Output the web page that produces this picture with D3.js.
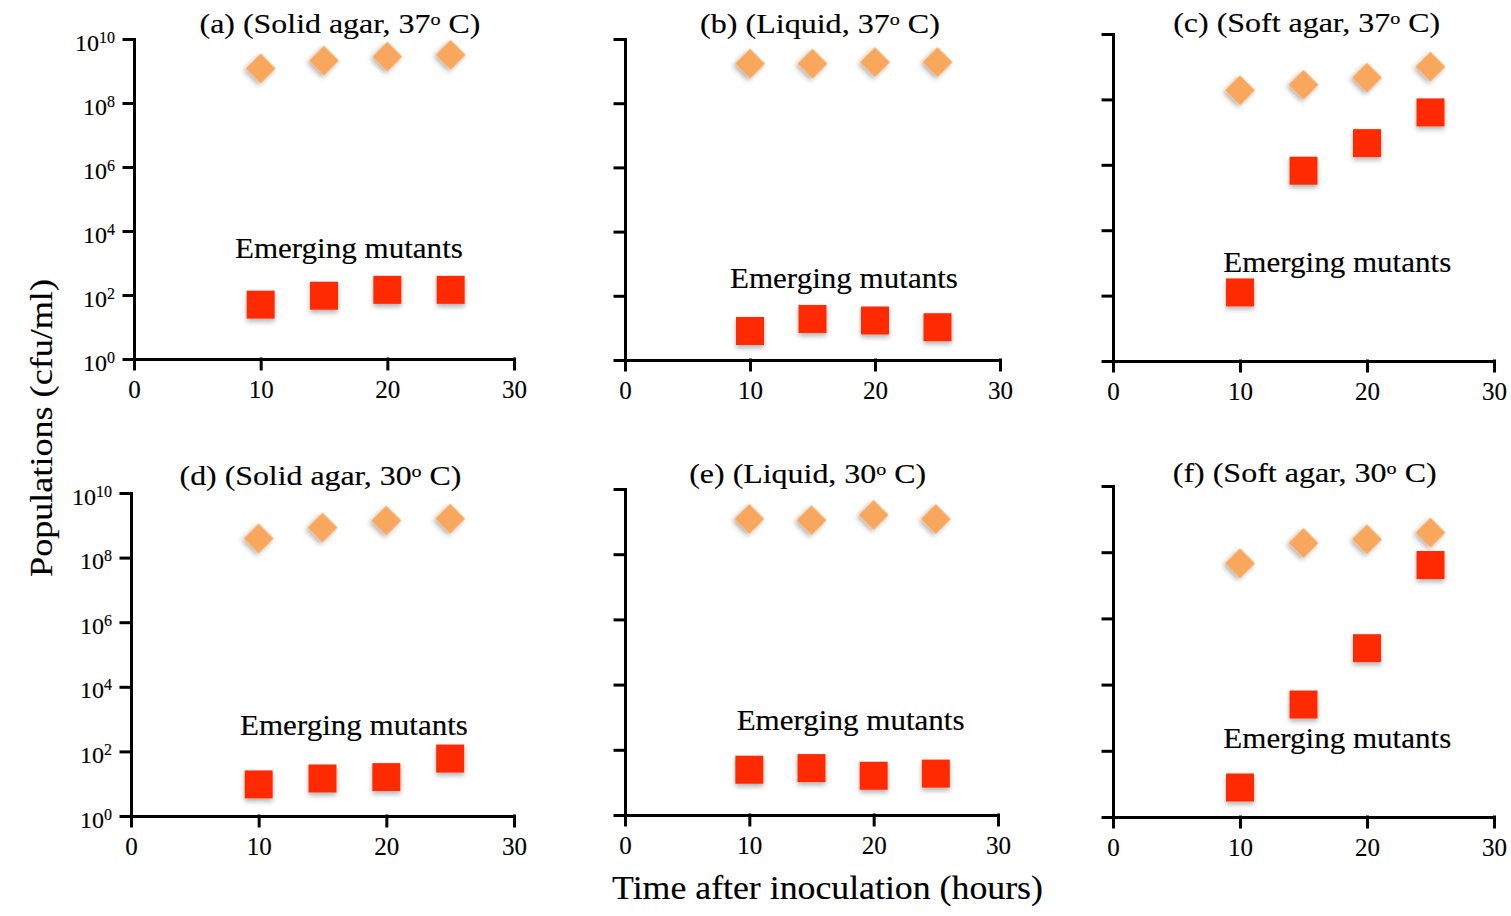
<!DOCTYPE html>
<html>
<head>
<meta charset="utf-8">
<script src="https://cdn.jsdelivr.net/npm/d3@7"></script>
<style>
  body { margin: 0; background: #fff; }
  svg text { stroke: #000; stroke-width: 0.15px; }
</style>
</head>
<body>
<svg id="chart" width="1511" height="916"></svg>
<script>
var FONT = 'Liberation Serif';

// sampling times (hours) and axis ticks
var times = [10, 15, 20, 25];
var xTicks = [0, 10, 20, 30];
var yTicks = [1, 1e2, 1e4, 1e6, 1e8, 1e10];
var yTickExps = ['0', '2', '4', '6', '8', '10'];

// panel titles: letter, medium, temperature
var panelLetters = ['a', 'b', 'c', 'd', 'e', 'f'];
var panelMedia = ['Solid agar', 'Liquid', 'Soft agar', 'Solid agar', 'Liquid', 'Soft agar'];
var panelTemps = ['37', '37', '37', '30', '30', '30'];

// total population (cfu/ml), orange diamonds
var totalA = [1.2e9, 2.1e9, 2.8e9, 3.2e9];
var totalB = [1.7e9, 1.7e9, 1.9e9, 1.9e9];
var totalC = [1.9e8, 2.8e8, 4.6e8, 1.0e9];
var totalD = [3.9e8, 8.5e8, 1.4e9, 1.6e9];
var totalE = [1.2e9, 1.1e9, 1.6e9, 1.2e9];
var totalF = [4.6e7, 1.9e8, 2.45e8, 3.9e8];

// emerging mutants (cfu/ml), red squares
var mutantA = [50, 95, 145, 145];
var mutantB = [8, 19, 17, 10.5];
var mutantC = [125, 6.6e5, 4.6e6, 4.0e7];
var mutantD = [9.5, 14.5, 16, 60];
var mutantE = [24.5, 27.5, 16, 18.6];
var mutantF = [7.8, 2500, 1.26e5, 4.1e7];

var totals = [totalA, totalB, totalC, totalD, totalE, totalF];
var mutants = [mutantA, mutantB, mutantC, mutantD, mutantE, mutantF];

// layout of each panel (pixels) and where the "Emerging mutants" note sits (hours, cfu/ml)
var layout = [
  { x0: 134, x1: 514, yTop: 39, yBot: 359, yLabels: true,  tx: 340,   ty: 33,  tw: 281, note: [7.97, 1.45e3] },
  { x0: 625, x1: 1000, yTop: 39, yBot: 360, yLabels: false, tx: 820,   ty: 33,  tw: 240, note: [8.4, 1.74e2] },
  { x0: 1113, x1: 1494, yTop: 34, yBot: 361, yLabels: false, tx: 1306.7, ty: 32, tw: 267, note: [8.69, 5.4e2] },
  { x0: 131, x1: 514, yTop: 493, yBot: 816, yLabels: true,  tx: 320.5, ty: 485, tw: 282, note: [8.54, 3.2e2] },
  { x0: 625, x1: 998, yTop: 489, yBot: 815, yLabels: false, tx: 807.7, ty: 483, tw: 237, note: [8.98, 4.1e2] },
  { x0: 1113, x1: 1494, yTop: 486, yBot: 817, yLabels: false, tx: 1304.7, ty: 482, tw: 264, note: [8.69, 1.23e2] }
];

var svg = d3.select('#chart');

// soft drop shadow under the markers
var shadow = svg.append('defs').append('filter')
  .attr('id', 'shadow')
  .attr('x', '-40%').attr('y', '-40%')
  .attr('width', '180%').attr('height', '190%');
shadow.append('feDropShadow')
  .attr('dx', 0).attr('dy', 3)
  .attr('stdDeviation', 2.5)
  .attr('flood-color', '#000')
  .attr('flood-opacity', 0.3);

// stretch a text horizontally so it covers the given width
function fitWidth(sel, ax, w) {
  var bw = sel.node().getBBox().width;
  var k = w / bw;
  sel.attr('transform', 'translate(' + ax + ',0) scale(' + k + ',1) translate(' + (-ax) + ',0)');
}

layout.forEach(function (p, i) {
  var x = d3.scaleLinear().domain([0, 30]).range([p.x0, p.x1]);
  var y = d3.scaleLog().domain([1, 1e10]).range([p.yBot, p.yTop]);
  var g = svg.append('g').attr('class', 'panel');

  var xAxis = g.append('g')
    .attr('transform', 'translate(0,' + p.yBot + ')')
    .call(d3.axisBottom(x).tickValues(xTicks).tickSize(10).tickSizeOuter(0).tickPadding(11));
  xAxis.selectAll('text')
    .style('font-family', FONT)
    .style('font-size', '25px')
    .attr('fill', '#000');

  var yAxis = g.append('g')
    .attr('transform', 'translate(' + p.x0 + ',0)')
    .call(d3.axisLeft(y).tickValues(yTicks).tickSize(10).tickSizeOuter(0));
  yAxis.selectAll('.tick text').remove();

  g.selectAll('.domain, .tick line')
    .attr('stroke', '#000')
    .attr('stroke-width', 3)
    .attr('stroke-linecap', 'square');

  if (p.yLabels) {
    yAxis.selectAll('.tick').each(function (d, j) {
      var t = d3.select(this).append('text')
        .attr('x', -19)
        .attr('y', 11)
        .attr('text-anchor', 'end')
        .attr('fill', '#000')
        .style('font-family', FONT)
        .style('font-size', '24px');
      t.append('tspan').text('10');
      t.append('tspan')
        .style('font-size', '16px')
        .attr('dy', -8)
        .text(yTickExps[j]);
    });
  }

  // title
  var title = g.append('text')
    .attr('x', p.tx)
    .attr('y', p.ty)
    .attr('text-anchor', 'middle')
    .style('font-family', FONT)
    .style('font-size', '27px');
  title.append('tspan').text('(' + panelLetters[i] + ') (' + panelMedia[i] + ', ' + panelTemps[i]);
  title.append('tspan').style('font-size', '17px').attr('dy', -8).text('o');
  title.append('tspan').attr('dy', 8).text(' C)');
  fitWidth(title, p.tx, p.tw);

  // note
  var note = g.append('text')
    .attr('x', x(p.note[0]))
    .attr('y', y(p.note[1]))
    .style('font-family', FONT)
    .style('font-size', '29px')
    .text('Emerging mutants');
  fitWidth(note, x(p.note[0]), 228);

  // total population: diamonds
  var diamond = d3.symbol().type(d3.symbolSquare).size(450);
  g.selectAll('path.total')
    .data(totals[i])
    .enter()
    .append('path')
    .attr('class', 'total')
    .attr('d', diamond)
    .attr('fill', '#F9A75B')
    .attr('filter', 'url(#shadow)')
    .attr('transform', function (d, k) {
      return 'translate(' + x(times[k]) + ',' + y(d) + ') rotate(45)';
    });

  // emerging mutants: squares
  var side = 28;
  g.selectAll('rect.mutant')
    .data(mutants[i])
    .enter()
    .append('rect')
    .attr('class', 'mutant')
    .attr('x', function (d, k) { return x(times[k]) - side / 2; })
    .attr('y', function (d) { return y(d) - side / 2; })
    .attr('width', side)
    .attr('height', side)
    .attr('fill', '#FF2A00')
    .attr('filter', 'url(#shadow)');
});

// shared axis titles
var yTitle = svg.append('text')
  .attr('x', 0)
  .attr('y', 0)
  .attr('text-anchor', 'middle')
  .style('font-family', FONT)
  .style('font-size', '32px')
  .text('Populations (cfu/ml)');
var yw = yTitle.node().getBBox().width;
yTitle.attr('transform', 'translate(52,428) rotate(-90) scale(' + (298 / yw) + ',1)');

var xTitle = svg.append('text')
  .attr('x', 827.5)
  .attr('y', 899)
  .attr('text-anchor', 'middle')
  .style('font-family', FONT)
  .style('font-size', '33px')
  .text('Time after inoculation (hours)');
fitWidth(xTitle, 827.5, 431);
</script>
</body>
</html>
